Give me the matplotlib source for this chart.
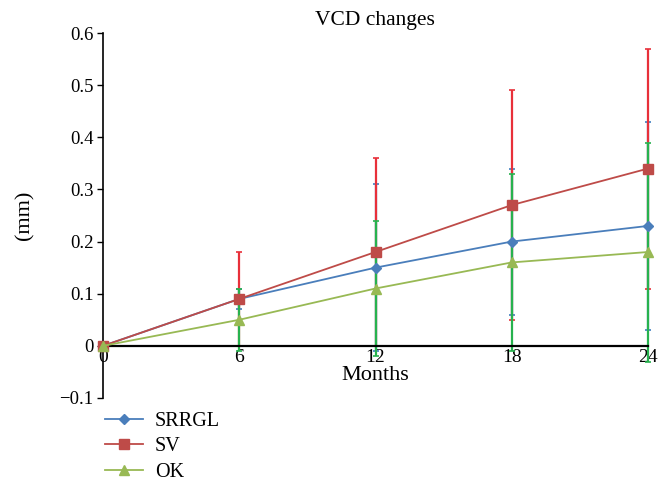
import matplotlib
matplotlib.use("Agg")
import matplotlib.pyplot as plt
import numpy as np

months = [0, 6, 12, 18, 24]
srrgl = [0, 0.09, 0.15, 0.20, 0.23]
sv = [0, 0.09, 0.18, 0.27, 0.34]
ok = [0, 0.05, 0.11, 0.16, 0.18]
srrgl_err = [0, 0.02, 0.16, 0.14, 0.20]
sv_err = [0, 0.09, 0.18, 0.22, 0.23]
ok_err = [0, 0.06, 0.13, 0.17, 0.21]
yticks = [-0.1, 0, 0.1, 0.2, 0.3, 0.4, 0.5, 0.6]
ytick_labels = ["\u22120.1", "0", "0.1", "0.2", "0.3", "0.4", "0.5", "0.6"]

plt.rcParams['font.family'] = ['Liberation Serif', 'DejaVu Serif']

fig = plt.figure(figsize=(6.65, 5), dpi=100)
ax = fig.add_axes([103/665, 102/500, 545/665, 365/500])

line_cols = {'SRRGL': '#4a7ebb', 'SV': '#be4b48', 'OK': '#98b954'}
err_cols = {'SRRGL': '#3f7fc0', 'SV': '#e8303a', 'OK': '#27b24e'}
series = [('SRRGL', srrgl, srrgl_err, 'D', 5.5),
          ('SV', sv, sv_err, 's', 7),
          ('OK', ok, ok_err, '^', 7.5)]

z = 2
for name, vals, err, m, ms in series:
    eb = ax.errorbar(months, vals, yerr=err, fmt='none', ecolor=err_cols[name],
                     elinewidth=1.6, capsize=2.5, capthick=1.2, zorder=z)
    for art in eb.get_children():
        art.set_clip_on(False)
    z += 0.1

for name, vals, err, m, ms in series:
    ax.plot(months, vals, color=line_cols[name], marker=m, markersize=ms,
            linewidth=1.3, label=name, zorder=4, clip_on=False)

ax.set_xlim(0, 24)
ax.set_ylim(-0.1, 0.6)
ax.set_xticks(months)
ax.set_xticklabels([str(m) for m in months])
ax.set_yticks(yticks)
ax.set_yticklabels(ytick_labels)
ax.tick_params(axis='x', length=0, pad=2.5, labelsize=14)
ax.tick_params(axis='y', length=4, width=1, direction='out', pad=3, labelsize=13.5)

ax.spines['top'].set_visible(False)
ax.spines['right'].set_visible(False)
ax.spines['bottom'].set_position(('data', 0))
ax.spines['bottom'].set_linewidth(1.6)
ax.spines['left'].set_linewidth(1.2)

fig.text(375/665, 1 - 21/500, "VCD changes", fontsize=15.5, ha='center', va='center')
fig.text(25/665, 1 - 215/500, "(mm)", fontsize=16, ha='center', va='center', rotation=90)
fig.text(375/665, 1 - 376/500, "Months", fontsize=16, ha='center', va='center')

leg = ax.legend(loc='upper left', bbox_to_anchor=(-0.012, -0.015), frameon=False,
                fontsize=14.5, handlelength=1.9, handletextpad=0.6,
                labelspacing=0.32, borderaxespad=0)

fig.savefig("out.png", dpi=100)
